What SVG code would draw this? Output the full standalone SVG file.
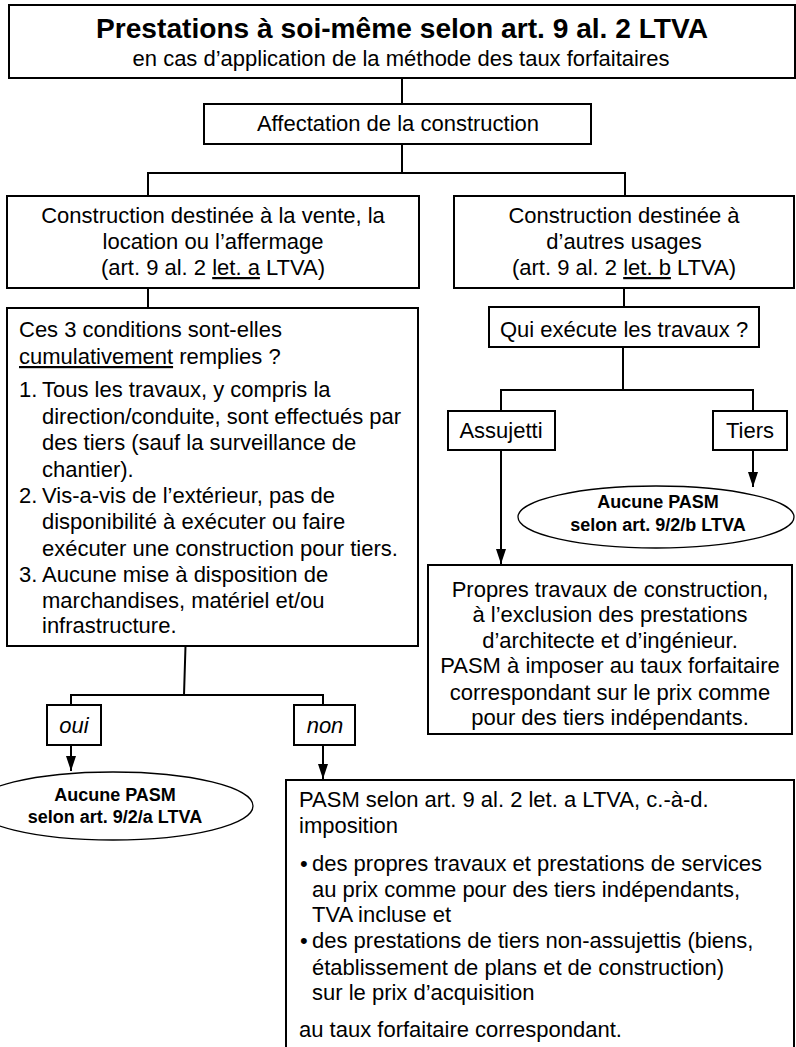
<svg xmlns="http://www.w3.org/2000/svg" width="796" height="1047" viewBox="0 0 796 1047">
<style>
text{font-family:"Liberation Sans",Arial,sans-serif;font-size:22px;fill:#000}
.box{fill:#fff;stroke:#000;stroke-width:2}
.ell{fill:#fff;stroke:#000;stroke-width:1.3}
.c{text-anchor:middle}
.b{font-weight:bold}
.e{font-weight:bold;font-size:18px;text-anchor:middle}
.i{font-style:italic}
.u{text-decoration:underline}
.ln{fill:none;stroke:#000;stroke-width:2}
</style>
<defs>
<marker id="ah" viewBox="0 0 15 10" refX="15" refY="5" markerWidth="15" markerHeight="10" markerUnits="userSpaceOnUse" orient="auto">
<path d="M0,0 L15,5 L0,10 z" fill="#000"/>
</marker>
</defs>
<rect width="796" height="1047" fill="#fff"/>
<g id="connectors">
<path class="ln" d="M402,78 V104"/>
<path class="ln" d="M402,144 V173 M148,173 H625 M148,172 V196 M625,172 V196"/>
<path class="ln" d="M148,288 V308"/>
<path class="ln" d="M624,288 V308"/>
<path class="ln" d="M623,346 V390 M501,390 H753 M501,389 V412 M753,389 V412"/>
<path class="ln" d="M753,450 V487" marker-end="url(#ah)"/>
<path class="ln" d="M501,450 V564" marker-end="url(#ah)"/>
<path class="ln" d="M185.5,646 L184,695 M71,695 H323 M71,694 V705 M323,694 V705"/>
<path class="ln" d="M71,745 V771" marker-end="url(#ah)"/>
<path class="ln" d="M323,745 V779" marker-end="url(#ah)"/>
</g>
<g id="title">
<rect class="box" x="9" y="5" width="786" height="73"/>
<text class="c b" x="402" y="38" style="font-size:28px" textLength="612" lengthAdjust="spacingAndGlyphs">Prestations à soi-même selon art. 9 al. 2 LTVA</text>
<text class="c" x="401" y="66">en cas d’application de la méthode des taux forfaitaires</text>
</g>
<g id="affectation">
<rect class="box" x="204" y="104" width="387" height="40"/>
<text class="c" x="398" y="131">Affectation de la construction</text>
</g>
<g id="vente">
<rect class="box" x="7" y="196" width="412" height="92"/>
<text class="c" x="213" y="223">Construction destinée à la vente, la</text>
<text class="c" x="213" y="249">location ou l’affermage</text>
<text class="c" x="213" y="275">(art. 9 al. 2 <tspan class="u">let. a</tspan> LTVA)</text>
</g>
<g id="autres">
<rect class="box" x="454" y="196" width="340" height="92"/>
<text class="c" x="624" y="223">Construction destinée à</text>
<text class="c" x="624" y="249">d’autres usages</text>
<text class="c" x="624" y="275">(art. 9 al. 2 <tspan class="u">let. b</tspan> LTVA)</text>
</g>
<g id="conditions">
<rect class="box" x="7" y="308" width="411" height="338"/>
<text x="19" y="337">Ces 3 conditions sont-elles</text>
<text x="19" y="364"><tspan class="u">cumulativement</tspan> remplies ?</text>
<text x="19" y="397">1.</text>
<text x="42" y="397">Tous les travaux, y compris la</text>
<text x="42" y="424">direction/conduite, sont effectués par</text>
<text x="42" y="450">des tiers (sauf la surveillance de</text>
<text x="42" y="477">chantier).</text>
<text x="19" y="503">2.</text>
<text x="42" y="503">Vis-a-vis de l’extérieur, pas de</text>
<text x="42" y="529">disponibilité à exécuter ou faire</text>
<text x="42" y="556">exécuter une construction pour tiers.</text>
<text x="19" y="582">3.</text>
<text x="42" y="582">Aucune mise à disposition de</text>
<text x="42" y="608">marchandises, matériel et/ou</text>
<text x="42" y="633">infrastructure.</text>
</g>
<g id="qui">
<rect class="box" x="489" y="307" width="270" height="40"/>
<text class="c" x="624" y="337">Qui exécute les travaux ?</text>
</g>
<g id="assujetti">
<rect class="box" x="448" y="411" width="107" height="39"/>
<text class="c" x="501" y="438">Assujetti</text>
</g>
<g id="tiers">
<rect class="box" x="713" y="411" width="74" height="39"/>
<text class="c" x="750" y="438">Tiers</text>
</g>
<g id="aucune-b">
<ellipse class="ell" cx="656" cy="517" rx="138" ry="31"/>
<text class="e" x="658" y="508">Aucune PASM</text>
<text class="e" x="658" y="531">selon art. 9/2/b LTVA</text>
</g>
<g id="propres">
<rect class="box" x="428" y="565" width="364" height="169"/>
<text class="c" x="610" y="597">Propres travaux de construction,</text>
<text class="c" x="610" y="622">à l’exclusion des prestations</text>
<text class="c" x="610" y="648">d’architecte et d’ingénieur.</text>
<text class="c" x="610" y="673">PASM à imposer au taux forfaitaire</text>
<text class="c" x="610" y="700">correspondant sur le prix comme</text>
<text class="c" x="610" y="725">pour des tiers indépendants.</text>
</g>
<g id="oui">
<rect class="box" x="47" y="705" width="54" height="40"/>
<text class="c i" x="74" y="733">oui</text>
</g>
<g id="non">
<rect class="box" x="294" y="705" width="61" height="40"/>
<text class="c i" x="325" y="733">non</text>
</g>
<g id="aucune-a">
<ellipse class="ell" cx="113" cy="806" rx="140" ry="34"/>
<text class="e" x="115" y="801">Aucune PASM</text>
<text class="e" x="115" y="823">selon art. 9/2/a LTVA</text>
</g>
<g id="pasm">
<rect class="box" x="286" y="780" width="508" height="290"/>
<text x="299" y="807">PASM selon art. 9 al. 2 let. a LTVA, c.-à-d.</text>
<text x="299" y="833">imposition</text>
<text x="300" y="871">•</text>
<text x="312" y="871">des propres travaux et prestations de services</text>
<text x="312" y="897">au prix comme pour des tiers indépendants,</text>
<text x="312" y="922">TVA incluse et</text>
<text x="300" y="948">•</text>
<text x="312" y="948">des prestations de tiers non-assujettis (biens,</text>
<text x="312" y="975">établissement de plans et de construction)</text>
<text x="312" y="1000">sur le prix d’acquisition</text>
<text x="299" y="1037">au taux forfaitaire correspondant.</text>
</g>
</svg>
